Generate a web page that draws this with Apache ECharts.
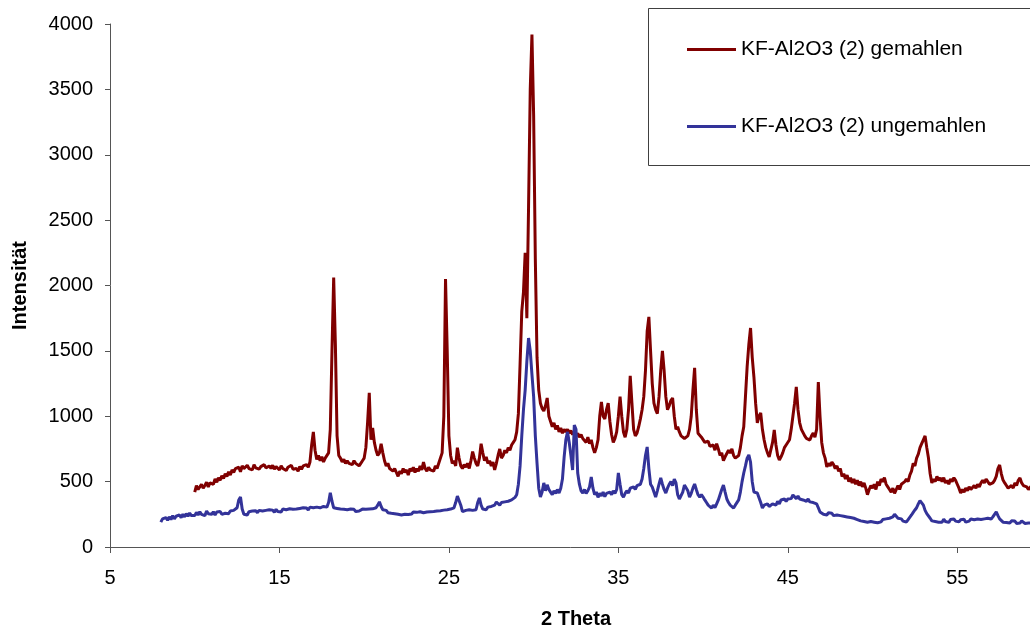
<!DOCTYPE html>
<html>
<head>
<meta charset="utf-8">
<script src="https://cdn.jsdelivr.net/npm/echarts@6/dist/echarts.min.js"></script>
<style>
html,body{margin:0;padding:0;background:#fff;}
#c{width:1030px;height:629px;}
</style>
</head>
<body>
<div id="c"></div>
<script>
// Series names
const seriesNames = ['KF-Al2O3 (2) gemahlen', 'KF-Al2O3 (2) ungemahlen'];
const axisNames = { x: '2 Theta', y: 'Intensität' };

// KF-Al2O3 (2) gemahlen : [2 Theta, Intensität]
const gemahlen = [
[10.0,420],[10.1,470],[10.2,440],[10.3,455],[10.4,480],[10.5,450],[10.6,470],[10.7,495],[10.8,460],[10.9,490],
[11.0,505],[11.1,480],[11.2,520],[11.3,495],[11.4,530],[11.5,510],[11.6,545],[11.7,525],[11.8,560],[11.9,540],
[12.0,575],[12.1,550],[12.2,590],[12.3,570],[12.4,600],[12.5,585],[12.6,610],[12.7,575],[12.8,620],[12.9,600],
[13.0,590],[13.1,625],[13.2,600],[13.3,615],[13.4,590],[13.5,630],[13.6,605],[13.7,620],[13.8,595],[13.9,615],
[14.0,600],[14.1,630],[14.2,605],[14.3,590],[14.4,620],[14.5,600],[14.6,625],[14.7,595],[14.8,615],[14.9,605],
[15.0,590],[15.1,620],[15.2,600],[15.3,615],[15.4,585],[15.5,610],[15.6,600],[15.7,625],[15.8,595],[15.9,610],
[16.0,600],[16.1,580],[16.2,615],[16.3,595],[16.4,620],[16.5,605],[16.6,630],[16.7,610],[16.8,650],[16.9,780],
[17.0,880],[17.1,740],[17.2,670],[17.3,700],[17.4,660],[17.5,690],[17.6,650],[17.7,680],[17.8,670],[17.9,720],
[18.0,900],[18.1,1500],[18.2,2060],[18.3,1550],[18.4,850],[18.5,700],[18.6,680],[18.7,650],[18.8,670],[18.9,640],
[19.0,660],[19.1,640],[19.2,650],[19.3,630],[19.4,660],[19.5,640],[19.6,650],[19.7,620],[19.8,640],[19.9,660],
[20.0,680],[20.1,760],[20.2,950],[20.3,1180],[20.4,820],[20.5,910],[20.6,800],[20.7,740],[20.8,700],[20.9,720],
[21.0,790],[21.1,720],[21.2,660],[21.3,620],[21.4,640],[21.5,600],[21.6,610],[21.7,580],[21.8,600],[21.9,570],
[22.0,540],[22.1,580],[22.2,560],[22.3,600],[22.4,570],[22.5,590],[22.6,550],[22.7,600],[22.8,580],[22.9,610],
[23.0,570],[23.1,600],[23.2,580],[23.3,620],[23.4,590],[23.5,650],[23.6,600],[23.7,580],[23.8,610],[23.9,590],
[24.0,600],[24.1,580],[24.2,620],[24.3,600],[24.4,640],[24.5,650],[24.6,720],[24.7,1000],[24.8,2050],[24.9,1500],
[25.0,850],[25.1,700],[25.2,640],[25.3,660],[25.4,620],[25.5,760],[25.6,680],[25.7,620],[25.8,600],[25.9,630],
[26.0,610],[26.1,640],[26.2,600],[26.3,660],[26.4,730],[26.5,680],[26.6,640],[26.7,620],[26.8,680],[26.9,790],
[27.0,720],[27.1,660],[27.2,690],[27.3,640],[27.4,660],[27.5,620],[27.6,650],[27.7,590],[27.8,640],[27.9,700],
[28.0,750],[28.1,680],[28.2,700],[28.3,740],[28.4,720],[28.5,760],[28.6,740],[28.7,780],[28.8,800],[28.9,820],
[29.0,880],[29.1,1020],[29.2,1400],[29.3,1800],[29.4,1950],[29.5,2250],[29.6,1750],[29.7,2600],[29.8,3500],[29.9,3920],
[30.0,3300],[30.1,2200],[30.2,1450],[30.3,1200],[30.4,1100],[30.5,1060],[30.6,1040],[30.7,1080],[30.8,1140],[30.9,1000],
[31.0,960],[31.1,920],[31.2,950],[31.3,900],[31.4,930],[31.5,880],[31.6,910],[31.7,870],[31.8,900],[31.9,880],
[32.0,900],[32.1,870],[32.2,890],[32.3,860],[32.4,880],[32.5,850],[32.6,870],[32.7,840],[32.8,860],[32.9,830],
[33.0,830],[33.1,800],[33.2,840],[33.3,790],[33.4,820],[33.5,760],[33.6,720],[33.7,760],[33.8,820],[33.9,1000],
[34.0,1110],[34.1,1000],[34.2,980],[34.3,1050],[34.4,1100],[34.5,960],[34.6,860],[34.7,800],[34.8,830],[34.9,880],
[35.0,1000],[35.1,1150],[35.2,1000],[35.3,880],[35.4,840],[35.5,900],[35.6,1050],[35.7,1310],[35.8,1100],[35.9,900],
[36.0,850],[36.1,870],[36.2,920],[36.3,980],[36.4,1050],[36.5,1150],[36.6,1350],[36.7,1650],[36.8,1760],[36.9,1500],
[37.0,1250],[37.1,1100],[37.2,1050],[37.3,1020],[37.4,1150],[37.5,1350],[37.6,1500],[37.7,1350],[37.8,1150],[37.9,1050],
[38.0,1080],[38.1,1120],[38.2,1140],[38.3,1000],[38.4,900],[38.5,920],[38.6,880],[38.7,850],[38.8,860],[38.9,830],
[39.0,820],[39.1,850],[39.2,900],[39.3,1000],[39.4,1200],[39.5,1370],[39.6,1050],[39.7,870],[39.8,880],[39.9,840],
[40.0,830],[40.1,800],[40.2,790],[40.3,810],[40.4,770],[40.5,760],[40.6,780],[40.7,740],[40.8,790],[40.9,750],
[41.0,700],[41.1,720],[41.2,660],[41.3,690],[41.4,700],[41.5,740],[41.6,720],[41.7,750],[41.8,700],[41.9,680],
[42.0,665],[42.1,700],[42.2,760],[42.3,850],[42.4,920],[42.5,1150],[42.6,1380],[42.7,1550],[42.8,1675],[42.9,1450],
[43.0,1300],[43.1,1100],[43.2,950],[43.3,1000],[43.4,1025],[43.5,900],[43.6,820],[43.7,760],[43.8,720],[43.9,690],
[44.0,700],[44.1,800],[44.2,895],[44.3,780],[44.4,700],[44.5,665],[44.6,690],[44.7,720],[44.8,760],[44.9,780],
[45.0,795],[45.1,820],[45.2,900],[45.3,1000],[45.4,1100],[45.5,1224],[45.6,1050],[45.7,950],[45.8,900],[45.9,895],
[46.0,850],[46.1,830],[46.2,820],[46.3,818],[46.4,850],[46.5,872],[46.6,840],[46.7,900],[46.8,1262],[46.9,1000],
[47.0,800],[47.1,720],[47.2,680],[47.3,612],[47.4,640],[47.5,620],[47.6,650],[47.7,630],[47.8,600],[47.9,620],
[48.0,580],[48.1,600],[48.2,540],[48.3,560],[48.4,520],[48.5,550],[48.6,500],[48.7,530],[48.8,490],[48.9,520],
[49.0,480],[49.1,510],[49.2,470],[49.3,500],[49.4,460],[49.5,490],[49.6,450],[49.7,400],[49.8,440],[49.9,470],
[50.0,450],[50.1,480],[50.2,440],[50.3,500],[50.4,470],[50.5,520],[50.6,500],[50.7,530],[50.8,480],[50.9,460],
[51.0,440],[51.1,420],[51.2,450],[51.3,410],[51.4,440],[51.5,470],[51.6,440],[51.7,480],[51.8,470],[51.9,500],
[52.0,520],[52.1,500],[52.2,550],[52.3,580],[52.4,640],[52.5,620],[52.6,680],[52.7,710],[52.8,760],[52.9,790],
[53.0,820],[53.1,850],[53.2,760],[53.3,680],[53.4,560],[53.5,490],[53.6,520],[53.7,500],[53.8,540],[53.9,510],
[54.0,528],[54.1,500],[54.2,530],[54.3,490],[54.4,510],[54.5,480],[54.6,520],[54.7,500],[54.8,530],[54.9,510],
[55.0,480],[55.1,450],[55.2,413],[55.3,440],[55.4,420],[55.5,450],[55.6,430],[55.7,460],[55.8,440],[55.9,450],
[56.0,470],[56.1,450],[56.2,480],[56.3,460],[56.4,490],[56.5,510],[56.6,490],[56.7,520],[56.8,500],[56.9,480],
[57.0,470],[57.1,490],[57.2,510],[57.3,540],[57.4,600],[57.5,627],[57.6,560],[57.7,512],[57.8,490],[57.9,470],
[58.0,450],[58.1,436],[58.2,470],[58.3,450],[58.4,490],[58.5,470],[58.6,510],[58.7,528],[58.8,490],[58.9,470],
[59.0,480],[59.1,460],[59.2,440],[59.3,451],[59.4,470],[59.5,440],[59.6,460],[59.7,430],[59.8,450],[59.9,440],
[60.0,450]
];

// KF-Al2O3 (2) ungemahlen : [2 Theta, Intensität]
const ungemahlen = [
[8.0,190],[8.1,215],[8.2,200],[8.3,225],[8.4,205],[8.5,230],[8.6,210],[8.7,240],[8.8,215],[8.9,235],
[9.0,220],[9.1,245],[9.2,225],[9.3,250],[9.4,230],[9.5,255],[9.6,235],[9.7,260],[9.8,240],[9.9,250],
[10.0,240],[10.1,265],[10.2,245],[10.3,270],[10.4,250],[10.5,262],[10.6,240],[10.7,275],[10.8,255],[10.9,265],
[11.0,250],[11.1,270],[11.2,245],[11.3,268],[11.4,255],[11.5,272],[11.6,250],[11.7,265],[11.8,258],[11.9,270],
[12.0,255],[12.1,275],[12.2,260],[12.3,280],[12.4,265],[12.5,300],[12.6,360],[12.7,382],[12.8,290],[12.9,250],
[13.0,262],[13.1,245],[13.2,270],[13.3,255],[13.4,275],[13.5,260],[13.6,278],[13.7,262],[13.8,280],[13.9,265],
[14.0,275],[14.1,262],[14.2,280],[14.3,268],[14.4,285],[14.5,270],[14.6,282],[14.7,265],[14.8,288],[14.9,272],
[15.0,280],[15.1,268],[15.2,290],[15.3,275],[15.4,285],[15.5,270],[15.6,292],[15.7,278],[15.8,288],[15.9,275],
[16.0,290],[16.1,278],[16.2,295],[16.3,280],[16.4,300],[16.5,285],[16.6,298],[16.7,282],[16.8,305],[16.9,290],
[17.0,300],[17.1,285],[17.2,305],[17.3,290],[17.4,300],[17.5,288],[17.6,310],[17.7,295],[17.8,305],[17.9,340],
[18.0,415],[18.1,350],[18.2,300],[18.3,285],[18.4,295],[18.5,280],[18.6,290],[18.7,275],[18.8,288],[18.9,280],
[19.0,285],[19.1,275],[19.2,290],[19.3,278],[19.4,288],[19.5,272],[19.6,285],[19.7,275],[19.8,282],[19.9,290],
[20.0,278],[20.1,288],[20.2,275],[20.3,290],[20.4,280],[20.5,292],[20.6,285],[20.7,300],[20.8,320],[20.9,345],
[21.0,310],[21.1,285],[21.2,270],[21.3,280],[21.4,262],[21.5,275],[21.6,258],[21.7,270],[21.8,255],[21.9,265],
[22.0,250],[22.1,262],[22.2,245],[22.3,258],[22.4,250],[22.5,265],[22.6,248],[22.7,260],[22.8,252],[22.9,268],
[23.0,255],[23.1,265],[23.2,250],[23.3,270],[23.4,258],[23.5,262],[23.6,250],[23.7,268],[23.8,255],[23.9,270],
[24.0,260],[24.1,272],[24.2,258],[24.3,275],[24.4,262],[24.5,278],[24.6,265],[24.7,282],[24.8,270],[24.9,285],
[25.0,275],[25.1,290],[25.2,280],[25.3,300],[25.4,340],[25.5,390],[25.6,398],[25.7,320],[25.8,270],[25.9,265],
[26.0,280],[26.1,270],[26.2,285],[26.3,290],[26.4,280],[26.5,295],[26.6,285],[26.7,340],[26.8,375],[26.9,320],
[27.0,290],[27.1,300],[27.2,285],[27.3,305],[27.4,290],[27.5,310],[27.6,300],[27.7,320],[27.8,344],[27.9,330],
[28.0,320],[28.1,340],[28.2,330],[28.3,345],[28.4,335],[28.5,350],[28.6,345],[28.7,360],[28.8,370],[28.9,380],
[29.0,400],[29.1,480],[29.2,620],[29.3,850],[29.4,1050],[29.5,1200],[29.6,1420],[29.7,1598],[29.8,1500],[29.9,1320],
[30.0,1150],[30.1,850],[30.2,642],[30.3,450],[30.4,382],[30.5,420],[30.6,490],[30.7,430],[30.8,475],[30.9,440],
[31.0,420],[31.1,400],[31.2,430],[31.3,410],[31.4,440],[31.5,413],[31.6,450],[31.7,520],[31.8,688],[31.9,820],
[32.0,880],[32.1,800],[32.2,700],[32.3,589],[32.4,933],[32.5,900],[32.6,566],[32.7,480],[32.8,430],[32.9,413],
[33.0,440],[33.1,410],[33.2,430],[33.3,460],[33.4,535],[33.5,450],[33.6,400],[33.7,420],[33.8,380],[33.9,410],
[34.0,390],[34.1,420],[34.2,385],[34.3,410],[34.4,395],[34.5,420],[34.6,400],[34.7,430],[34.8,410],[34.9,440],
[35.0,566],[35.1,480],[35.2,400],[35.3,382],[35.4,410],[35.5,430],[35.6,413],[35.7,450],[35.8,440],[35.9,460],
[36.0,440],[36.1,470],[36.2,459],[36.3,480],[36.4,520],[36.5,600],[36.6,700],[36.7,765],[36.8,600],[36.9,480],
[37.0,459],[37.1,420],[37.2,382],[37.3,430],[37.4,480],[37.5,528],[37.6,480],[37.7,440],[37.8,413],[37.9,450],
[38.0,480],[38.1,500],[38.2,470],[38.3,520],[38.4,490],[38.5,400],[38.6,367],[38.7,380],[38.8,420],[38.9,474],
[39.0,474],[39.1,430],[39.2,382],[39.3,410],[39.4,450],[39.5,482],[39.6,440],[39.7,400],[39.8,382],[39.9,400],
[40.0,382],[40.1,360],[40.2,340],[40.3,320],[40.4,310],[40.5,298],[40.6,320],[40.7,300],[40.8,330],[40.9,360],
[41.0,400],[41.1,440],[41.2,474],[41.3,420],[41.4,367],[41.5,340],[41.6,320],[41.7,310],[41.8,298],[41.9,320],
[42.0,320],[42.1,360],[42.2,420],[42.3,500],[42.4,566],[42.5,620],[42.6,680],[42.7,704],[42.8,650],[42.9,500],
[43.0,420],[43.1,405],[43.2,413],[43.3,400],[43.4,340],[43.5,298],[43.6,320],[43.7,306],[43.8,330],[43.9,310],
[44.0,306],[44.1,330],[44.2,340],[44.3,320],[44.4,350],[44.5,330],[44.6,360],[44.7,345],[44.8,367],[44.9,350],
[45.0,367],[45.1,380],[45.2,370],[45.3,398],[45.4,385],[45.5,370],[45.6,390],[45.7,367],[45.8,380],[45.9,360],
[46.0,370],[46.1,350],[46.2,367],[46.3,345],[46.4,360],[46.5,340],[46.6,355],[46.7,330],[46.8,300],[46.9,268],
[47.0,262],[47.1,250],[47.2,265],[47.3,245],[47.4,262],[47.5,250],[47.6,258],[47.7,240],[47.8,255],[47.9,245],
[48.0,258],[48.1,240],[48.2,252],[48.3,235],[48.4,250],[48.5,230],[48.6,245],[48.7,225],[48.8,240],[48.9,220],
[49.0,230],[49.1,210],[49.2,225],[49.3,200],[49.4,215],[49.5,195],[49.6,210],[49.7,190],[49.8,205],[49.9,195],
[50.0,210],[50.1,190],[50.2,205],[50.3,185],[50.4,200],[50.5,192],[50.6,210],[50.7,195],[50.8,215],[50.9,200],
[51.0,220],[51.1,205],[51.2,230],[51.3,250],[51.4,235],[51.5,220],[51.6,205],[51.7,215],[51.8,198],[51.9,210],
[52.0,191],[52.1,210],[52.2,225],[52.3,245],[52.4,265],[52.5,283],[52.6,300],[52.7,330],[52.8,355],[52.9,360],
[53.0,320],[53.1,280],[53.2,255],[53.3,245],[53.4,220],[53.5,200],[53.6,215],[53.7,195],[53.8,210],[53.9,190],
[54.0,205],[54.1,190],[54.2,212],[54.3,195],[54.4,208],[54.5,188],[54.6,210],[54.7,195],[54.8,214],[54.9,198],
[55.0,210],[55.1,192],[55.2,208],[55.3,195],[55.4,212],[55.5,190],[55.6,205],[55.7,198],[55.8,214],[55.9,200],
[56.0,208],[56.1,195],[56.2,214],[56.3,200],[56.4,210],[56.5,198],[56.6,215],[56.7,205],[56.8,220],[56.9,210],
[57.0,214],[57.1,230],[57.2,250],[57.3,268],[57.4,240],[57.5,215],[57.6,200],[57.7,190],[57.8,205],[57.9,188],
[58.0,195],[58.1,183],[58.2,200],[58.3,185],[58.4,198],[58.5,180],[58.6,195],[58.7,183],[58.8,200],[58.9,188],
[59.0,180],[59.1,195],[59.2,183],[59.3,198],[59.4,185],[59.5,192],[59.6,180],[59.7,195],[59.8,183],[59.9,190],
[60.0,185]
];

const FONT = "'Liberation Sans', Arial, sans-serif";
const chart = echarts.init(document.getElementById('c'), null, { renderer: 'canvas' });

chart.setOption({
  animation: false,
  backgroundColor: '#ffffff',
  textStyle: { fontFamily: FONT },
  grid: { left: 110, width: 932, top: 24, height: 523, containLabel: false, outerBoundsMode: 'none' },
  graphic: [{
    type: 'rect', z: 5,
    shape: { x: 648.5, y: 8.5, width: 400, height: 157 },
    style: { fill: '#ffffff', stroke: '#404040', lineWidth: 1 }
  }],
  legend: {
    z: 10,
    orient: 'vertical',
    left: 687, top: 39,
    padding: 0,
    itemWidth: 49, itemHeight: 3,
    itemGap: 56,
    icon: 'rect',
    textStyle: { fontFamily: FONT, fontSize: 21, color: '#000' },
    data: seriesNames
  },
  xAxis: {
    type: 'value', min: 5, max: 60, interval: 10,
    name: axisNames.x, nameLocation: 'middle', nameGap: 62,
    nameTextStyle: { fontFamily: FONT, fontSize: 20, fontWeight: 'bold', color: '#000' },
    axisLine: { lineStyle: { color: '#555555', width: 1 } },
    axisTick: { show: true, inside: false, length: 6, lineStyle: { color: '#555555' } },
    axisLabel: { fontFamily: FONT, fontSize: 20, color: '#000', margin: 21, showMaxLabel: false },
    splitLine: { show: false }
  },
  yAxis: {
    type: 'value', min: 0, max: 4000, interval: 500,
    name: axisNames.y, nameLocation: 'middle', nameGap: 80,
    nameTextStyle: { fontFamily: FONT, fontSize: 20, fontWeight: 'bold', color: '#000' },
    axisLine: { show: true, lineStyle: { color: '#555555', width: 1 } },
    axisTick: { show: true, inside: false, length: 5, lineStyle: { color: '#555555' } },
    axisLabel: { fontFamily: FONT, fontSize: 20, color: '#000', margin: 17, formatter: v => String(v) },
    splitLine: { show: false }
  },
  series: [
    {
      name: seriesNames[0], type: 'line', data: gemahlen,
      showSymbol: false, symbol: 'none', clip: true,
      lineStyle: { color: '#800000', width: 3 }, itemStyle: { color: '#800000' }
    },
    {
      name: seriesNames[1], type: 'line', data: ungemahlen,
      showSymbol: false, symbol: 'none', clip: true,
      lineStyle: { color: '#333399', width: 3 }, itemStyle: { color: '#333399' }
    }
  ]
});
</script>
</body>
</html>
